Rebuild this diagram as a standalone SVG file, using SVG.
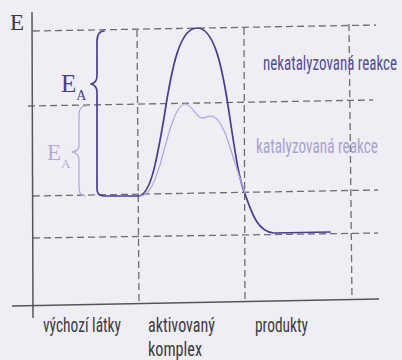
<svg xmlns="http://www.w3.org/2000/svg" width="402" height="360" viewBox="0 0 402 360">
<style>
.grid{stroke:#6e6e72;stroke-width:1.3;stroke-dasharray:7 4;fill:none}
.axis{stroke:#55555a;stroke-width:1.5;fill:none}
.lbl{font-family:"Liberation Sans Narrow","Roboto Condensed","Liberation Sans",sans-serif;font-size:21px;fill:#3c3c40}
.serif{font-family:"Liberation Serif","DejaVu Serif",serif}
.dark{stroke:#4a3f8e;stroke-width:1.7;fill:none;stroke-linecap:round;stroke-linejoin:round}
.light{stroke:#ada6d8;stroke-width:1.2;fill:none;stroke-linecap:round;stroke-linejoin:round}
</style>
<rect width="402" height="360" fill="#eeeef4"/>
<g id="grid">
<line class="grid" x1="33" y1="31" x2="376" y2="25"/>
<line class="grid" x1="28" y1="106" x2="373" y2="100"/>
<line class="grid" x1="33" y1="196" x2="378" y2="190"/>
<line class="grid" x1="33" y1="238" x2="378" y2="233"/>
<line class="grid" x1="137" y1="30" x2="139" y2="304"/>
<line class="grid" x1="244" y1="28" x2="245" y2="300"/>
<line class="grid" x1="349" y1="24" x2="352" y2="299"/>
</g>
<g id="axes">
<line class="axis" x1="32" y1="12" x2="33" y2="318"/>
<line class="axis" x1="12" y1="306" x2="379" y2="299"/>
<text class="serif" x="10" y="30" font-size="23" fill="#3a3a3a">E</text>
</g>
<g id="uncatalyzed">
<path class="dark" d="M 104,31 C 99,31 97,35 97,42 L 97,76 C 97,81 95,83 91,84 C 95,85 97,87 97,92 L 97,189 C 97,194 99,196 104,196 L 138,196 C 150,196 156,165 164,118 C 172,65 180,28 197,28 C 214,28 222,65 229,112 C 235,152 239,180 245,194 C 252,214 258,232 274,233 L 330,232"/>
<text class="serif" x="61" y="92" font-size="25" fill="#4a3f8e">E<tspan font-size="14" dy="8">A</tspan></text>
<text class="lbl" x="263" y="70" textLength="134" lengthAdjust="spacingAndGlyphs" style="fill:#564c94">nekatalyzovaná reakce</text>
</g>
<g id="catalyzed">
<path class="light" d="M 140,196 C 150,196 155,180 160,165 C 167,140 175,104 185,104 C 192,104 196,118 202,118 C 207,118 209,114 214,117 C 222,121 228,140 234,160 C 238,172 241,182 245,193"/>
<path class="light" d="M 86,106 C 81,106 79,109 79,115 L 79,145 C 79,150 77,151 72,152 C 77,153 79,155 79,160 L 79,188 C 79,193 81,196 85,196"/>
<text class="serif" x="47" y="160" font-size="23" fill="#b2acd6">E<tspan font-size="13" dy="8">A</tspan></text>
<text class="lbl" x="256" y="153" textLength="122" lengthAdjust="spacingAndGlyphs" style="fill:#a9a3cc">katalyzovaná reakce</text>
</g>
<g id="labels">
<text class="lbl" x="43" y="332" textLength="78" lengthAdjust="spacingAndGlyphs">výchozí látky</text>
<text class="lbl" x="148" y="332" textLength="67" lengthAdjust="spacingAndGlyphs">aktivovaný</text>
<text class="lbl" x="148" y="356" textLength="54" lengthAdjust="spacingAndGlyphs">komplex</text>
<text class="lbl" x="255" y="332" textLength="53" lengthAdjust="spacingAndGlyphs">produkty</text>
</g>
</svg>
